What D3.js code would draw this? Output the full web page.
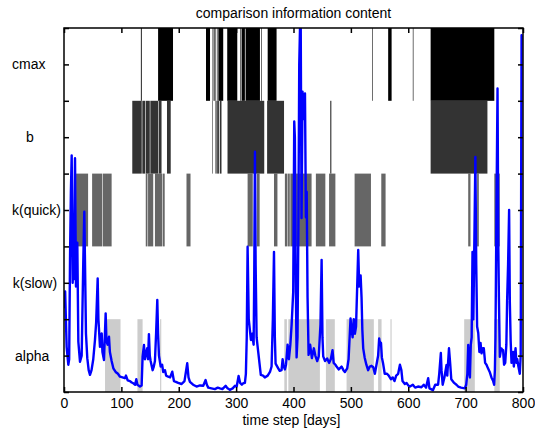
<!DOCTYPE html>
<html>
<head>
<meta charset="utf-8">
<script src="https://cdn.jsdelivr.net/npm/d3@7/dist/d3.min.js"></script>
<style>
body { margin: 0; background: #fff; }
svg text { font-family: "Liberation Sans", Arial, sans-serif; fill: #000; }
</style>
</head>
<body>
<div id="chart"></div>
<script>
// parameters, bottom band to top band
var params = ["alpha", "k(slow)", "k(quick)", "b", "cmax"];
var shades = ["#cccccc", "#999999", "#666666", "#333333", "#000000"];

// time steps (days) in which each parameter carries information
var alphaBars = [[71.5, 98.5], [128, 137], [167.5, 169.5], [384, 388.5], [391, 446],
    [456.5, 472], [492.5, 540], [547.5, 553.5], [569, 571], [697.5, 716], [750, 759.5]];
var kSlowBars = [];
var kQuickBars = [[21, 42], [49, 66.5], [67.5, 83], [142.5, 145.5], [146.5, 155.5],
    [158.5, 171.5], [172.5, 175.5], [213.5, 220.5], [320, 329], [336, 341], [366, 372],
    [385, 389.5], [390.5, 393.5], [394.5, 403], [404, 431.5], [439, 455.5], [462, 473],
    [506.5, 535], [553, 560.5], [704.5, 708.5], [720, 723], [750, 759.5]];
var bBars = [[119, 135.5], [136.5, 141.5], [142.5, 149.5], [150.5, 164.5], [165.5, 170],
    [179.5, 186], [258.5, 259.5], [264, 266], [267, 270], [271.5, 274.5], [285, 349],
    [354, 383.5], [464, 466], [639, 738]];
var cmaxBars = [[134, 135.5], [164, 190], [247.5, 254.5], [259, 260], [261, 262], [262.5, 264],
    [266.5, 267.5], [269, 277.5], [284.5, 302], [307.5, 308.5], [309.5, 315.3], [316.5, 341.5],
    [343.5, 344.5], [355, 370.5], [537, 538], [565, 571], [608, 609], [639, 750]];

var xTicks = [0, 100, 200, 300, 400, 500, 600, 700, 800];

// discharge series [day, value on band axis]
var discharge = [[1, 2.3], [2, 2.76], [4.6, 1.24], [7.5, 0.75], [9, 0.9], [10.5, 3.67],
    [12, 5.5], [13.4, 6.5], [15.1, 3.0], [16, 3.8], [17.4, 3.1], [19.2, 6.42], [20.9, 2.9],
    [22, 3.5], [23.2, 4.1], [25, 1.38], [27.9, 0.83], [30.8, 1.0], [33.7, 3.67], [35.4, 4.95],
    [38.3, 1.6], [40.6, 0.93], [43, 0.6], [45.3, 0.47], [48, 0.6], [51, 0.9], [54, 1.43],
    [56, 1.9], [58.7, 3.12], [60, 2.0], [62.7, 1.24], [64, 1.5], [65.7, 1.61], [67, 1.1],
    [69.7, 0.88], [72.6, 2.16], [74, 1.4], [76, 1.3], [78.4, 1.52], [80, 1.1], [83, 0.85],
    [86, 0.65], [90, 0.55], [94, 0.5], [97.6, 0.42], [102, 0.4], [106, 0.38], [108, 0.45],
    [111, 0.32], [115, 0.3], [118, 0.26], [120.7, 0.24], [124, 0.2], [126, 0.35], [128, 0.2],
    [132.4, 0.15], [135.3, 0.18], [137, 0.97], [139.4, 1.29], [141, 0.9], [142.3, 1.0],
    [145, 1.2], [146.5, 0.9], [148, 1.59], [149.5, 1.0], [151, 0.85], [154.5, 0.6],
    [156.5, 0.7], [158.5, 0.85], [160.5, 1.6], [162.6, 2.53], [164, 1.6], [165.5, 1.0],
    [168.5, 0.7], [171, 0.75], [173, 0.55], [176, 0.6], [178, 0.45], [181.7, 0.42], [185, 0.4],
    [188.7, 0.56], [191.6, 0.3], [195, 0.28], [199, 0.25], [205, 0.22], [210, 0.3],
    [214.8, 0.79], [217, 0.4], [219.5, 0.28], [225, 0.2], [231, 0.15], [237, 0.18],
    [242.7, 0.17], [246.8, 0.33], [249, 0.2], [251.4, 0.12], [257, 0.1], [263, 0.08],
    [268, 0.12], [271.8, 0.1], [276, 0.08], [281.7, 0.17], [285, 0.1], [289, 0.06], [294, 0.1],
    [298, 0.17], [301, 0.15], [304.3, 0.44], [307, 0.25], [310, 0.2], [312.4, 0.24],
    [315.3, 0.25], [317, 0.5], [318.5, 1.5], [320, 3.99], [322, 2.0], [324, 1.7], [325.8, 1.43],
    [328, 1.6], [330.5, 1.3], [331.5, 3.0], [332.8, 6.6], [334, 3.5], [335.7, 1.5],
    [338.5, 1.1], [343, 0.47], [347, 0.45], [350, 0.4], [355, 0.45], [359, 0.55], [361.8, 0.7],
    [364, 2.0], [366, 3.85], [367.5, 1.5], [368.8, 0.78], [373.4, 0.65], [376, 0.58],
    [379.2, 0.6], [381, 0.9], [383, 0.7], [385, 0.62], [387, 0.75], [389.7, 1.3], [392, 0.9],
    [394.5, 1.3], [396.7, 1.84], [399.5, 2.75], [401.3, 7.43], [402.4, 7.0], [404, 3.0],
    [405.4, 0.95], [407, 1.5], [408.5, 4.5], [410, 8.98], [412.4, 10.8], [414, 4.78],
    [415.8, 8.25], [417.5, 7.5], [418.5, 8.0], [420, 8.2], [421.6, 4.8], [423, 5.5],
    [424.5, 2.6], [426.3, 1.02], [429, 1.3], [432, 0.93], [435.5, 1.2], [438, 1.0],
    [441.3, 0.85], [444, 0.98], [447, 1.85], [449, 3.63], [450.5, 1.5], [451.8, 0.98],
    [455, 0.85], [458.7, 0.92], [462, 0.8], [465, 0.9], [468, 1.15], [470, 0.8], [473, 0.75],
    [475, 0.7], [479, 0.62], [483.8, 0.7], [487, 0.6], [489.5, 0.55], [493.6, 0.65],
    [496, 0.9], [499.4, 2.02], [501, 1.75], [503, 1.5], [505, 2.0], [507, 1.6], [509, 1.8],
    [511, 2.9], [512.8, 3.9], [514.5, 2.9], [517, 3.2], [518.6, 2.6], [520, 1.7],
    [521.5, 1.2], [524, 0.95], [527, 0.75], [530, 0.6], [533, 0.7], [536, 0.72], [539, 0.68],
    [541.8, 0.5], [545.8, 0.85], [547.5, 1.0], [549.3, 1.47], [551, 1.3], [552.5, 1.35],
    [554, 0.95], [556, 0.8], [559, 0.5], [563, 0.5], [566, 0.45], [569.7, 0.35], [573, 0.4],
    [576, 0.3], [579, 0.45], [582.4, 0.5], [585.5, 0.75], [588, 0.6], [590, 0.3], [594, 0.22],
    [597, 0.25], [600, 0.18], [603, 0.15], [608, 0.2], [612, 0.12], [617, 0.15], [623, 0.13],
    [627, 0.2], [631, 0.12], [634.7, 0.38], [637, 0.1], [643, 0.05], [647, 0.2], [652, 0.2],
    [654, 0.5], [656.8, 1.07], [658, 0.6], [660, 0.2], [663, 0.4], [666.7, 0.74], [668, 0.45],
    [671, 1.2], [673, 0.8], [675, 0.35], [680, 0.25], [684, 0.2], [687, 0.15], [692, 0.12],
    [698.6, 0.1], [701, 0.2], [703, 0.5], [704.5, 1.29], [706, 0.6], [707.5, 0.4], [709, 1.3],
    [710.5, 1.5], [712, 3.85], [713.5, 2.0], [715.5, 4.5], [717, 6.46], [718.5, 3.5],
    [720, 1.8], [722, 1.62], [724, 1.1], [726, 1.35], [727.7, 1.06], [730, 1.2], [731.7, 1.2],
    [734, 0.8], [736.4, 0.75], [739, 0.65], [742, 0.55], [745, 0.4], [748, 0.3], [749.7, 0.2],
    [751, 0.6], [752, 1.5], [753.5, 4.5], [755.6, 8.34], [757, 4.0], [758, 2.6], [759.6, 0.97],
    [762, 1.2], [764, 1.16], [765.3, 1.15], [767, 0.75], [769, 0.8], [771, 1.3], [772.3, 2.5],
    [774, 3.5], [775.8, 5.0], [777, 2.5], [778.5, 1.4], [780, 0.8], [782.8, 1.1], [784, 0.7],
    [785.7, 0.97], [787, 1.2], [788.6, 0.8], [790, 0.9], [792, 0.7], [794.4, 0.5], [796, 1.0],
    [797.5, 9.8], [799, 9.8]];

var width = 535, height = 430;
var margin = {top: 28, right: 12, bottom: 38, left: 64};

var x = d3.scaleLinear().domain([0, 800]).range([margin.left, width - margin.right]);
var y = d3.scaleLinear().domain([0, 10]).range([height - margin.bottom, margin.top]);

var svg = d3.select("#chart").append("svg").
    attr("width", width).
    attr("height", height);

svg.append("clipPath").attr("id", "plot-clip").
    append("rect").
    attr("x", x(0)).attr("y", y(10)).
    attr("width", x(800) - x(0)).attr("height", y(0) - y(10));

var plot = svg.append("g").attr("clip-path", "url(#plot-clip)");

// one band of bars per parameter, two y units tall
var bands = [alphaBars, kSlowBars, kQuickBars, bBars, cmaxBars];
bands.forEach(function(bars, i) {
    plot.append("g").
	selectAll("rect").
	data(bars).
	enter().append("rect").
	attr("x", function(d) { return x(d[0]); }).
	attr("width", function(d) { return x(d[1]) - x(d[0]); }).
	attr("y", y(2 * i + 2)).
	attr("height", y(2 * i) - y(2 * i + 2)).
	attr("fill", shades[i]);
});

var line = d3.line().
    x(function(d) { return x(d[0]); }).
    y(function(d) { return y(d[1]); });

plot.append("path").
    datum(discharge).
    attr("d", line).
    attr("fill", "none").
    attr("stroke", "#0000ff").
    attr("stroke-width", 2.4).
    attr("stroke-linejoin", "round");

// axes: all ticks point inwards, labels only on the left and bottom
var maxLen = d3.max(params, function(p) { return p.length; });
function paramLabel(v) {
    if (v % 2 === 1) {
	return params[(v - 1) / 2].padEnd(maxLen, " ");
    }
    return "";
}

var yLeft = svg.append("g").
    attr("transform", "translate(" + x(0) + ",0)").
    call(d3.axisLeft(y).tickValues(d3.range(0, 11)).tickSizeInner(-5).tickSizeOuter(0).
	 tickPadding(3).tickFormat(paramLabel));
yLeft.selectAll("text").
    attr("xml:space", "preserve").
    style("white-space", "pre").
    style("font-size", "14px");

svg.append("g").
    attr("transform", "translate(" + x(800) + ",0)").
    call(d3.axisRight(y).tickValues(d3.range(0, 11)).tickSizeInner(-5).tickSizeOuter(0).
	 tickFormat(""));

var xBottom = svg.append("g").
    attr("transform", "translate(0," + y(0) + ")").
    call(d3.axisBottom(x).tickValues(xTicks).tickSizeInner(-5).tickSizeOuter(0).
	 tickPadding(6).tickFormat(d3.format("d")));
xBottom.selectAll("text").style("font-size", "14px");

svg.append("g").
    attr("transform", "translate(0," + y(10) + ")").
    call(d3.axisTop(x).tickValues(xTicks).tickSizeInner(-5).tickSizeOuter(0).
	 tickFormat(""));

svg.selectAll(".domain").remove();
svg.selectAll(".tick line").attr("stroke", "#000").attr("stroke-width", 1.5);

svg.append("rect").
    attr("x", x(0)).attr("y", y(10)).
    attr("width", x(800) - x(0)).attr("height", y(0) - y(10)).
    attr("fill", "none").
    attr("stroke", "#000").
    attr("stroke-width", 1.5);

svg.append("text").
    attr("x", (x(0) + x(800)) / 2).
    attr("y", 18).
    attr("text-anchor", "middle").
    style("font-size", "14px").
    text("comparison information content");

svg.append("text").
    attr("x", (x(0) + x(800)) / 2 - 2).
    attr("y", 425).
    attr("text-anchor", "middle").
    style("font-size", "14px").
    text("time step [days]");
</script>
</body>
</html>
